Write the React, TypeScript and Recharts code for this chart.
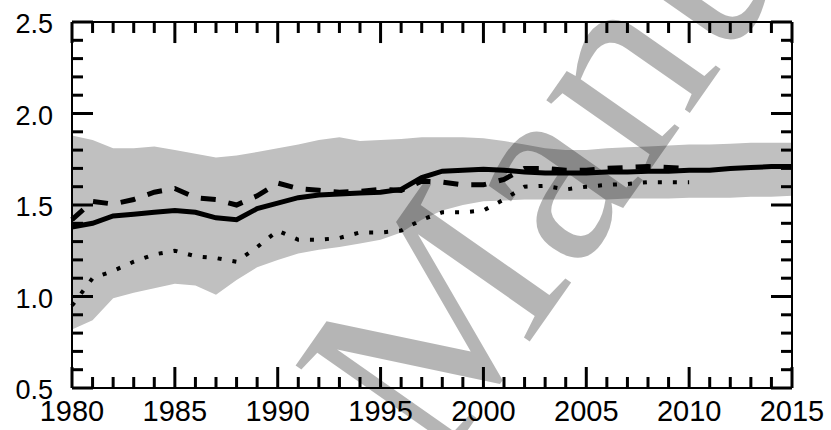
import React from 'react';
import { ComposedChart, Area, Line, XAxis, YAxis, ReferenceLine } from 'recharts';

const years = [
  1980, 1981, 1982, 1983, 1984, 1985, 1986, 1987, 1988, 1989,
  1990, 1991, 1992, 1993, 1994, 1995, 1996, 1997, 1998, 1999,
  2000, 2001, 2002, 2003, 2004, 2005, 2006, 2007, 2008, 2009,
  2010, 2011, 2012, 2013, 2014, 2015
];

const bandLow = [
  0.82, 0.87, 0.99, 1.02, 1.045, 1.07, 1.06, 1.01, 1.09, 1.16,
  1.2, 1.235, 1.255, 1.27, 1.29, 1.31, 1.35, 1.42, 1.47, 1.5,
  1.52, 1.525, 1.53, 1.53, 1.53, 1.53, 1.53, 1.535, 1.535, 1.535,
  1.54, 1.54, 1.54, 1.545, 1.545, 1.55
];

const bandHigh = [
  1.88, 1.855, 1.81, 1.81, 1.82, 1.8, 1.78, 1.76, 1.77, 1.79,
  1.81, 1.83, 1.855, 1.87, 1.85, 1.855, 1.86, 1.87, 1.87, 1.87,
  1.865, 1.85, 1.83, 1.81, 1.8, 1.8, 1.81, 1.815, 1.82, 1.825,
  1.83, 1.83, 1.835, 1.84, 1.84, 1.84
];

const solidSeries = [
  1.38, 1.4, 1.44, 1.45, 1.46, 1.47, 1.46, 1.43, 1.42, 1.48,
  1.51, 1.54, 1.555, 1.56, 1.565, 1.57, 1.585, 1.65, 1.685, 1.69,
  1.695, 1.69, 1.68, 1.675, 1.675, 1.675, 1.68, 1.68, 1.685, 1.685,
  1.69, 1.69, 1.7, 1.705, 1.71, 1.71
];

// dashed and dotted runs stop at 2010
const dashedSeries = [
  1.42, 1.52, 1.505, 1.53, 1.57, 1.59, 1.54, 1.53, 1.5, 1.55,
  1.62, 1.59, 1.58, 1.57, 1.575, 1.585, 1.58, 1.63, 1.625, 1.61,
  1.61, 1.64, 1.7, 1.7, 1.69, 1.69, 1.7, 1.705, 1.71, 1.705,
  1.7
];

const dottedSeries = [
  0.95, 1.1, 1.14, 1.19, 1.23, 1.25, 1.22, 1.21, 1.19, 1.27,
  1.36, 1.31, 1.31, 1.32, 1.35, 1.35, 1.36, 1.42, 1.46, 1.46,
  1.47, 1.53, 1.6, 1.605, 1.585, 1.6, 1.61, 1.615, 1.625, 1.625,
  1.625
];

const xTicks = [
  1980, 1981, 1982, 1983, 1984, 1985, 1986, 1987, 1988, 1989,
  1990, 1991, 1992, 1993, 1994, 1995, 1996, 1997, 1998, 1999,
  2000, 2001, 2002, 2003, 2004, 2005, 2006, 2007, 2008, 2009,
  2010, 2011, 2012, 2013, 2014, 2015
];
const xLabels = [1980, 1985, 1990, 1995, 2000, 2005, 2010, 2015];

const yTicks = [
  0.5, 0.6, 0.7, 0.8, 0.9, 1.0, 1.1, 1.2, 1.3, 1.4, 1.5,
  1.6, 1.7, 1.8, 1.9, 2.0, 2.1, 2.2, 2.3, 2.4, 2.5
];
const yLabels = ['0.5', '1.0', '1.5', '2.0', '2.5'];

const data = years.map((year, i) => ({
  year,
  band: [bandLow[i], bandHigh[i]],
  solid: solidSeries[i],
  dashed: dashedSeries[i] ?? null,
  dotted: dottedSeries[i] ?? null
}));

const FONT = '"Liberation Sans", Arial, Helvetica, sans-serif';
const INK = '#000';
const TICK_W = 3;
const X0 = 1980;
const X1 = 2015;
const Y0 = 0.5;
const Y1 = 2.5;
// inward tick lengths: px for the bottom axis, axis units for the segments
const MAJOR_PX = 21;
const MINOR_PX = 11;
const X_MAJOR = 0.115;
const X_MINOR = 0.06;
const Y_MAJOR = 1.02;
const Y_MINOR = 0.535;

const isYMajor = (v: number) => yLabels.includes(Number(v).toFixed(1));

const renderBottomTick = (p: any) => {
  const { x, y, payload } = p;
  const major = xLabels.includes(payload.value);
  const len = major ? MAJOR_PX : MINOR_PX;
  return (
    <g key={`b-${payload.value}`}>
      <path d={`M${x},${y}V${y - len}`} stroke={INK} strokeWidth={TICK_W} />
      {major && (
        <text x={x} y={y + 33} textAnchor="middle" fontSize={29} fontFamily={FONT} fill="#000">
          {payload.value}
        </text>
      )}
    </g>
  );
};

const renderLeftTick = (p: any) => {
  const { x, y, payload } = p;
  if (!isYMajor(payload.value)) return <g key={`l-${payload.value}`} />;
  return (
    <text key={`l-${payload.value}`} x={x - 19} y={y + 11} textAnchor="end" fontSize={27} fontFamily={FONT} fill="#000">
      {Number(payload.value).toFixed(1)}
    </text>
  );
};

const axisLine = { stroke: '#000', strokeWidth: 2 };

export default function App() {
  const tickMarks: React.ReactNode[] = [];
  xTicks.forEach((yr) => {
    const len = xLabels.includes(yr) ? X_MAJOR : X_MINOR;
    tickMarks.push(
      <ReferenceLine key={`xt-${yr}`} segment={[{ x: yr, y: Y1 }, { x: yr, y: Y1 - len }]} stroke={INK} strokeWidth={TICK_W} />
    );
  });
  yTicks.forEach((v) => {
    const len = isYMajor(v) ? Y_MAJOR : Y_MINOR;
    tickMarks.push(
      <ReferenceLine key={`yl-${v}`} segment={[{ x: X0, y: v }, { x: X0 + len, y: v }]} stroke={INK} strokeWidth={TICK_W} />
    );
    tickMarks.push(
      <ReferenceLine key={`yr-${v}`} segment={[{ x: X1, y: v }, { x: X1 - len, y: v }]} stroke={INK} strokeWidth={TICK_W} />
    );
  });

  return (
    <div style={{ position: 'absolute', left: 0, top: 0, width: 831, height: 430, background: '#fff' }}>
      <ComposedChart width={831} height={430} data={data} margin={{ top: 22, right: 39, bottom: 0, left: 0 }}>
        <XAxis
          dataKey="year"
          type="number"
          domain={[X0, X1]}
          ticks={xTicks}
          interval={0}
          height={42}
          tickSize={0}
          tickMargin={0}
          tickLine={false}
          axisLine={axisLine}
          tick={renderBottomTick}
        />
        <YAxis
          type="number"
          domain={[Y0, Y1]}
          ticks={yTicks}
          interval={0}
          width={72}
          tickSize={0}
          tickMargin={0}
          tickLine={false}
          axisLine={axisLine}
          tick={renderLeftTick}
        />
        <Area
          dataKey="band"
          type="linear"
          fill="#c0c0c0"
          fillOpacity={1}
          stroke="none"
          isAnimationActive={false}
        />
        <Line
          dataKey="dotted"
          type="linear"
          stroke="#000"
          strokeWidth={4}
          strokeDasharray="4 11"
          dot={false}
          isAnimationActive={false}
        />
        <Line
          dataKey="dashed"
          type="linear"
          stroke="#000"
          strokeWidth={5}
          strokeDasharray="15 13"
          dot={false}
          isAnimationActive={false}
        />
        <Line
          dataKey="solid"
          type="linear"
          stroke="#000"
          strokeWidth={5}
          dot={false}
          isAnimationActive={false}
        />
        {/* frame: top and right edges */}
        <ReferenceLine y={Y1} stroke="#000" strokeWidth={2} />
        <ReferenceLine x={X1} stroke="#000" strokeWidth={2} />
        {tickMarks}
      </ComposedChart>
      {/* repository watermark laid over the figure */}
      <svg
        width={831}
        height={430}
        style={{ position: 'absolute', left: 0, top: 0, pointerEvents: 'none' }}
      >
        <g transform="translate(437 474) rotate(-55)" fill="#000" fillOpacity={0.29} fontFamily='"Liberation Serif", "Times New Roman", serif' fontSize={272}>
          <text x={-65} y={0} textAnchor="end">Author</text>
          <text x={0} y={0}>Manuscript</text>
        </g>
      </svg>
    </div>
  );
}
